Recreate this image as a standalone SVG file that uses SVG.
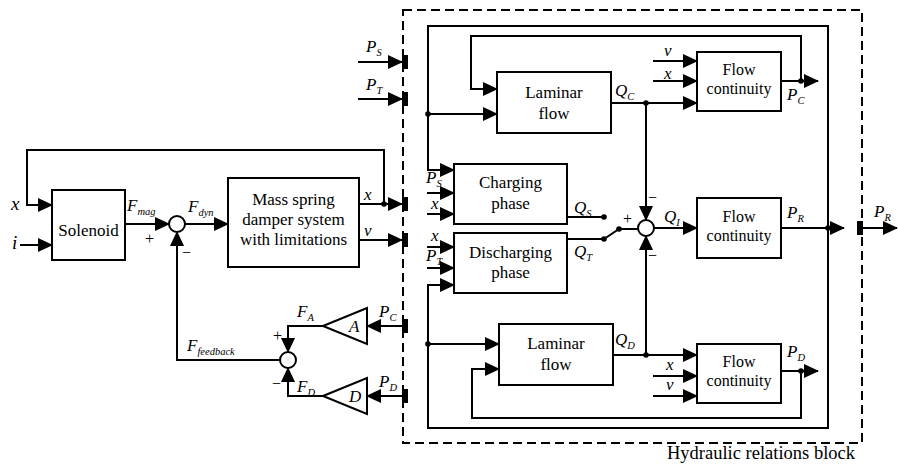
<svg xmlns="http://www.w3.org/2000/svg" width="898" height="465" viewBox="0 0 898 465" font-family="'Liberation Serif', 'Times New Roman', Times, 'DejaVu Serif', serif">
<style>
.ln{fill:none;stroke:#000;stroke-width:2}
.ar{marker-end:url(#ah)}
.box{fill:#fff;stroke:#000;stroke-width:2}
.dash{fill:none;stroke:#000;stroke-width:2;stroke-dasharray:9,5}
.port{fill:#000}
.dot{fill:#000}
text{font-family:'Liberation Serif','Times New Roman',Times,'DejaVu Serif',serif}
.t{font-size:17px;text-anchor:middle;fill:#000}
.tf{font-size:16px;text-anchor:middle;fill:#000}
.m{font-style:italic;font-size:17px;fill:#000}
.s{font-size:10.5px}
.sg{font-size:16px;fill:#000}
</style>
<defs>
<marker id="ah" markerUnits="userSpaceOnUse" markerWidth="15" markerHeight="14" viewBox="0 0 15 14" refX="14" refY="7" orient="auto">
<path d="M0,0 L15,7 L0,14 z" fill="#000"/>
</marker>
</defs>
<rect width="898" height="465" fill="#fff"/>

<g id="connectors">
<path class="ln" d="M384,204 V150 H27 V205 H52"/>
<path class="ln ar" d="M27,205 H52"/>
<path class="ln ar" d="M20,245 H52"/>
<path class="ln ar" d="M125,224 H169"/>
<path class="ln ar" d="M185,224 H228"/>
<path class="ln ar" d="M359,204 H402"/>
<path class="ln ar" d="M359,240 H402"/>
<path class="ln ar" d="M280,360 H177 V232"/>
<path class="ln ar" d="M402,326 H367"/>
<path class="ln ar" d="M402,396 H367"/>
<path class="ln ar" d="M323,326 H288 V352"/>
<path class="ln ar" d="M323,396 H288 V368"/>
<path class="ln ar" d="M358,62 H402"/>
<path class="ln ar" d="M358,99 H402"/>
<path class="ln ar" d="M828,228 V26 H428 V170 H454"/>
<path class="ln ar" d="M828,228 V428 H428 V285 H454"/>
<path class="ln ar" d="M428,114 H497"/>
<path class="ln ar" d="M428,344 H499"/>
<path class="ln ar" d="M801,81 V36 H471 V89 H497"/>
<path class="ln ar" d="M781,81 H818"/>
<path class="ln ar" d="M653,61 H697"/>
<path class="ln ar" d="M653,81 H697"/>
<path class="ln ar" d="M611,103 H697"/>
<path class="ln ar" d="M646,103 V220"/>
<path class="ln ar" d="M427,193 H454"/>
<path class="ln ar" d="M427,214 H454"/>
<path class="ln ar" d="M427,247 H454"/>
<path class="ln ar" d="M427,268 H454"/>
<path class="ln" d="M567,217 H604"/>
<path class="ln" d="M567,239 H604 L619,229 H638"/>
<path class="ln ar" d="M654,228 H697"/>
<path class="ln ar" d="M781,228 H844"/>
<path class="ln ar" d="M863,228 H897"/>
<path class="ln ar" d="M613,355 H697"/>
<path class="ln ar" d="M646,355 V236"/>
<path class="ln ar" d="M653,376 H697"/>
<path class="ln ar" d="M653,396 H697"/>
<path class="ln ar" d="M781,371 H818"/>
<path class="ln ar" d="M801,371 V418 H472 V369 H499"/>
<circle class="dot" cx="384" cy="204" r="2.8"/>
<circle class="dot" cx="428" cy="114" r="2.8"/>
<circle class="dot" cx="428" cy="344" r="2.8"/>
<circle class="dot" cx="646" cy="103" r="2.8"/>
<circle class="dot" cx="646" cy="355" r="2.8"/>
<circle class="dot" cx="801" cy="81" r="2.8"/>
<circle class="dot" cx="801" cy="371" r="2.8"/>
<circle class="dot" cx="828" cy="228" r="2.8"/>
<circle class="dot" cx="604" cy="217" r="2.8"/>
<circle class="dot" cx="604" cy="239" r="2.8"/>
<circle class="dot" cx="619" cy="229" r="2.8"/>
</g>

<g id="hydraulic-block">
<rect class="dash" x="403" y="10" width="459" height="433"/>
<text class="sg" x="667" y="459" style="font-size:18.5px">Hydraulic relations block</text>
</g>

<g id="ports">
<rect class="port" x="402" y="55" width="6" height="14"/>
<rect class="port" x="402" y="92" width="6" height="14"/>
<rect class="port" x="402" y="197" width="6" height="14"/>
<rect class="port" x="402" y="233" width="6" height="14"/>
<rect class="port" x="402" y="319" width="6" height="14"/>
<rect class="port" x="402" y="389" width="6" height="14"/>
<rect class="port" x="857" y="221" width="6" height="14"/>
</g>

<g id="solenoid">
<rect class="box" x="52" y="190" width="73" height="70"/>
<text class="t" x="88.5" y="236">Solenoid</text>
</g>

<g id="sum-force">
<circle class="box" cx="177" cy="224" r="8"/>
</g>

<g id="mass-spring">
<rect class="box" x="228" y="178" width="131" height="89"/>
<text class="t" x="293.5" y="205">Mass spring</text>
<text class="t" x="293.5" y="225">damper system</text>
<text class="t" x="293.5" y="245">with limitations</text>
</g>

<g id="gain-A">
<polygon class="box" points="323,326 367,308 367,344"/>
<text class="m" x="349" y="332">A</text>
</g>

<g id="gain-D">
<polygon class="box" points="323,396 367,378 367,414"/>
<text class="m" x="349" y="402">D</text>
</g>

<g id="sum-feedback">
<circle class="box" cx="288" cy="360" r="8"/>
</g>

<g id="laminar-top">
<rect class="box" x="497" y="72" width="114" height="61"/>
<text class="t" x="554" y="98">Laminar</text>
<text class="t" x="554" y="119">flow</text>
</g>

<g id="flow-top">
<rect class="box" x="697" y="52" width="84" height="59"/>
<text class="tf" x="739" y="75">Flow</text>
<text class="tf" x="739" y="94">continuity</text>
</g>

<g id="charging">
<rect class="box" x="454" y="164" width="113" height="60"/>
<text class="t" x="510.5" y="188">Charging</text>
<text class="t" x="510.5" y="209">phase</text>
</g>

<g id="discharging">
<rect class="box" x="454" y="233" width="113" height="60"/>
<text class="t" x="510.5" y="258">Discharging</text>
<text class="t" x="510.5" y="278">phase</text>
</g>

<g id="sum-flow">
<circle class="box" cx="646" cy="228" r="8"/>
</g>

<g id="flow-mid">
<rect class="box" x="697" y="198" width="84" height="60"/>
<text class="tf" x="739" y="222">Flow</text>
<text class="tf" x="739" y="241">continuity</text>
</g>

<g id="laminar-bottom">
<rect class="box" x="499" y="324" width="114" height="61"/>
<text class="t" x="556" y="349">Laminar</text>
<text class="t" x="556" y="370">flow</text>
</g>

<g id="flow-bottom">
<rect class="box" x="697" y="344" width="84" height="59"/>
<text class="tf" x="739" y="367">Flow</text>
<text class="tf" x="739" y="386">continuity</text>
</g>

<g id="labels">
<text class="m" x="11" y="210" style="font-size:19px">x</text>
<text class="m" x="12" y="249" style="font-size:19px">i</text>
<text class="m" x="127" y="211">F<tspan class="s" dy="4">mag</tspan></text>
<text class="sg" x="145" y="244">+</text>
<text class="m" x="188" y="212">F<tspan class="s" dy="4">dyn</tspan></text>
<text class="sg" x="182" y="258">−</text>
<text class="m" x="364" y="200">x</text>
<text class="m" x="364" y="236">v</text>
<text class="m" x="187" y="351">F<tspan class="s" dy="4">feedback</tspan></text>
<text class="m" x="297" y="317">F<tspan class="s" dy="4">A</tspan></text>
<text class="sg" x="273" y="341">+</text>
<text class="sg" x="272" y="389">−</text>
<text class="m" x="297" y="392">F<tspan class="s" dy="4">D</tspan></text>
<text class="m" x="379" y="317">P<tspan class="s" dy="4">C</tspan></text>
<text class="m" x="379" y="387">P<tspan class="s" dy="4">D</tspan></text>
<text class="m" x="366" y="52">P<tspan class="s" dy="4">S</tspan></text>
<text class="m" x="366" y="90">P<tspan class="s" dy="4">T</tspan></text>
<text class="m" x="664" y="56">v</text>
<text class="m" x="664" y="79">x</text>
<text class="m" x="615" y="96">Q<tspan class="s" dy="4">C</tspan></text>
<text class="m" x="787" y="100">P<tspan class="s" dy="4">C</tspan></text>
<text class="m" x="426" y="183">P<tspan class="s" dy="4">S</tspan></text>
<text class="m" x="431" y="209">x</text>
<text class="m" x="431" y="241">x</text>
<text class="m" x="426" y="261">P<tspan class="s" dy="4">T</tspan></text>
<text class="m" x="574" y="213">Q<tspan class="s" dy="4">S</tspan></text>
<text class="m" x="574" y="257">Q<tspan class="s" dy="4">T</tspan></text>
<text class="sg" x="623" y="224">+</text>
<text class="sg" x="648" y="203">−</text>
<text class="sg" x="648" y="261">−</text>
<text class="m" x="664" y="222">Q<tspan class="s" dy="4">I</tspan></text>
<text class="m" x="787" y="218">P<tspan class="s" dy="4">R</tspan></text>
<text class="m" x="874" y="217">P<tspan class="s" dy="4">R</tspan></text>
<text class="m" x="615" y="345">Q<tspan class="s" dy="4">D</tspan></text>
<text class="m" x="666" y="370">x</text>
<text class="m" x="666" y="390">v</text>
<text class="m" x="787" y="357">P<tspan class="s" dy="4">D</tspan></text>
</g>
</svg>
